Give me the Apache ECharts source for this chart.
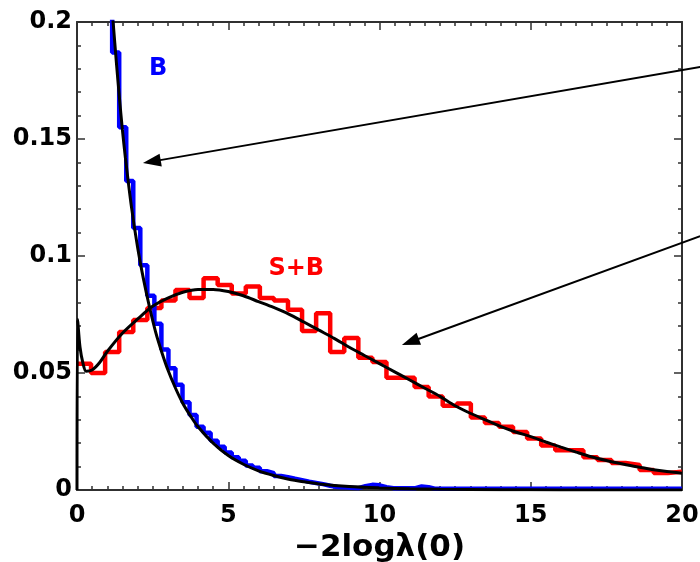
<!DOCTYPE html>
<html><head><meta charset="utf-8">
<script src="https://cdn.jsdelivr.net/npm/echarts@6/dist/echarts.min.js"></script>
<style>html,body{margin:0;padding:0;background:#fff}#c{width:700px;height:562px}</style>
</head><body><div id="c"></div>
<script>
// ---- data ----
const xTickLabels = [0, 5, 10, 15, 20];
const yTickLabels = [0, 0.05, 0.1, 0.15, 0.2];
const xTitle = '\u22122log\u03bb(0)';

// S+B histogram (red): 43 bins of width 0.465 starting at 0
const sbBinStart = 0;
const sbBinWidth = 0.465;
const sbHist = [0.054, 0.050, 0.059, 0.0675, 0.0726, 0.0778, 0.081, 0.0855, 0.082, 0.0905,
  0.0876, 0.084, 0.087, 0.082, 0.081, 0.077, 0.068, 0.0755, 0.059, 0.065,
  0.0565, 0.0547, 0.048, 0.048, 0.044, 0.040, 0.036, 0.037, 0.031, 0.0286,
  0.027, 0.0248, 0.022, 0.019, 0.017, 0.017, 0.014, 0.0128, 0.0115, 0.0107,
  0.0085, 0.0073, 0.0078];

// B histogram (blue): 82 bins of width 0.2325 starting at 0.93
const bBinStart = 0.93;
const bBinWidth = 0.2325;
const bHist = [0.215, 0.187, 0.155, 0.132, 0.112, 0.096, 0.083, 0.071, 0.060, 0.052,
  0.045, 0.0375, 0.032, 0.027, 0.0245, 0.021, 0.0185, 0.016, 0.014, 0.0125,
  0.0105, 0.0095, 0.008, 0.0072, 0.006, 0.0055, 0.0048, 0.0042, 0.0035, 0.003,
  0.0025, 0.0018, 0.0013, 0.0012, 0.001, 0.0008, 0.0016, 0.0022, 0.002, 0.0012,
  0.0008, 0.0008, 0.0007, 0.0007, 0.0015, 0.0012, 0.0005, 0.0005, 0.0005, 0.0005,
  0.0005, 0.0005, 0.0005, 0.0005, 0.0005, 0.0005, 0.0005, 0.0005, 0.0005, 0.0005,
  0.0005, 0.0005, 0.0005, 0.0005, 0.0005, 0.0005, 0.0005, 0.0005, 0.0005, 0.0005,
  0.0005, 0.0005, 0.0005, 0.0005, 0.0005, 0.0005, 0.0005, 0.0005, 0.0005, 0.0005,
  0.0005, 0.0005];

// B fit curve (black)
const bCurveX = [1.12, 1.2, 1.3, 1.4, 1.5, 1.6, 1.8, 2.0, 2.2, 2.4, 2.6, 2.8, 3.0, 3.25, 3.5, 3.75, 4.0, 4.5, 5.0, 5.5, 6.0, 6.5, 7.0, 7.5, 8.0, 9.0, 10, 11, 12, 14, 16, 18, 20];
const bCurveY = [0.211, 0.199, 0.183, 0.168, 0.154, 0.142, 0.121, 0.104, 0.090, 0.078, 0.0675, 0.059, 0.0515, 0.0437, 0.037, 0.0317, 0.027, 0.020, 0.0147, 0.011, 0.0082, 0.0062, 0.0046, 0.0035, 0.0026, 0.0015, 0.0009, 0.0005, 0.0003, 0.0001, 0.00005, 0.00002, 0.00001];

// S+B fit curve (black)
const sbCurveX = [0, 0.02, 0.1, 0.2, 0.3, 0.5, 0.75, 1, 1.5, 2, 2.5, 3, 3.5, 4, 4.5, 5, 5.5, 6, 6.5, 7, 7.5, 8, 8.5, 9, 9.5, 10, 10.5, 11, 11.5, 12, 12.5, 13, 13.5, 14, 14.5, 15, 15.5, 16, 16.5, 17, 17.5, 18, 18.5, 19, 19.5, 20];
const sbCurveY = [0, 0.073, 0.061, 0.054, 0.0508, 0.0513, 0.0545, 0.0592, 0.067, 0.073, 0.0785, 0.082, 0.0845, 0.0857, 0.0857, 0.0848, 0.083, 0.0805, 0.078, 0.0752, 0.0718, 0.0683, 0.0648, 0.061, 0.0575, 0.054, 0.0505, 0.047, 0.0435, 0.040, 0.036, 0.0328, 0.030, 0.0272, 0.0248, 0.0228, 0.0205, 0.0183, 0.0162, 0.0142, 0.0126, 0.0112, 0.0099, 0.0088, 0.0079, 0.0072];

// annotations (data coordinates)
const labelB = {text: 'B', x: 2.68, y: 0.180};
const labelSB = {text: 'S+B', x: 7.25, y: 0.0945};
const arrows = [
  {from: [20.6, 0.1808], to: [2.18, 0.1397]},
  {from: [20.6, 0.1085], to: [10.74, 0.062]}
];

// ---- build ----
const FONT = 'DejaVu Sans';
function histData(start, width, vals) {
  const out = [];
  for (let i = 0; i <= vals.length; i++) {
    out.push([+(start + width * i).toFixed(4), vals[Math.min(i, vals.length - 1)]]);
  }
  return out;
}
function zip(xs, ys) { return xs.map((x, i) => [x, ys[i]]); }

const axisColor = '#303030';
function xAx(pos, showLabel) {
  return {
    type: 'value', min: xTickLabels[0], max: xTickLabels[xTickLabels.length - 1], interval: 5,
    position: pos,
    axisLine: {show: true, onZero: false, lineStyle: {color: axisColor, width: 2}},
    axisTick: {show: true, inside: true, length: 8, lineStyle: {color: axisColor, width: 1.5}},
    minorTick: {show: true, splitNumber: 10, length: 4, lineStyle: {color: axisColor, width: 1.5}},
    splitLine: {show: false},
    axisLabel: {show: showLabel, fontFamily: FONT, fontWeight: 'bold', fontSize: 24, color: '#000', margin: 14},
    name: showLabel ? xTitle : '', nameLocation: 'middle', nameGap: 36,
    nameTextStyle: {fontFamily: FONT, fontWeight: 'bold', fontSize: 31, color: '#000'}
  };
}
function yAx(pos, showLabel) {
  return {
    type: 'value', min: yTickLabels[0], max: yTickLabels[yTickLabels.length - 1], interval: 0.05,
    position: pos,
    axisLine: {show: true, onZero: false, lineStyle: {color: axisColor, width: 2}},
    axisTick: {show: true, inside: true, length: 8, lineStyle: {color: axisColor, width: 1.5}},
    minorTick: {show: true, splitNumber: 5, length: 4, lineStyle: {color: axisColor, width: 1.5}},
    splitLine: {show: false},
    axisLabel: {show: showLabel, fontFamily: FONT, fontWeight: 'bold', fontSize: 24, color: '#000', margin: 5}
  };
}

const chart = echarts.init(document.getElementById('c'), null, {renderer: 'canvas'});
chart.setOption({
  animation: false,
  backgroundColor: '#fff',
  grid: {left: 77, right: 18, top: 22, bottom: 72, containLabel: false, outerBoundsMode: 'none'},
  xAxis: [xAx('bottom', true), xAx('top', false)],
  yAxis: [yAx('left', true), yAx('right', false)],
  series: [
    {type: 'line', step: 'end', data: histData(sbBinStart, sbBinWidth, sbHist), showSymbol: false,
     lineStyle: {color: '#ff0000', width: 4.5}, z: 2},
    {type: 'line', step: 'end', data: histData(bBinStart, bBinWidth, bHist), showSymbol: false,
     lineStyle: {color: '#0000ff', width: 4.5}, z: 3},
    {type: 'line', data: zip(sbCurveX, sbCurveY), showSymbol: false, smooth: 0.3,
     lineStyle: {color: '#000', width: 3}, z: 4},
    {type: 'line', data: zip(bCurveX, bCurveY), showSymbol: false, smooth: 0.3,
     lineStyle: {color: '#000', width: 3}, z: 4}
  ]
});

function px(p) { return chart.convertToPixel({gridIndex: 0}, p); }
const g = [];
[[labelB, '#0000ff'], [labelSB, '#ff0000']].forEach(([l, c]) => {
  const p = px([l.x, l.y]);
  g.push({type: 'text', x: p[0], y: p[1], z: 10,
    style: {text: l.text, fill: c, font: 'bold 24px "' + FONT + '"', textAlign: 'center', textVerticalAlign: 'middle'}});
});
arrows.forEach(a => {
  const p0 = px(a.from), p1 = px(a.to);
  const dx = p1[0] - p0[0], dy = p1[1] - p0[1];
  const L = Math.hypot(dx, dy), ux = dx / L, uy = dy / L;
  const hl = 18, hw = 6.5;
  const bx = p1[0] - ux * hl, by = p1[1] - uy * hl;
  g.push({type: 'line', z: 10, shape: {x1: p0[0], y1: p0[1], x2: bx + ux * 2, y2: by + uy * 2},
    style: {stroke: '#000', lineWidth: 2}});
  g.push({type: 'polygon', z: 10, shape: {points: [[p1[0], p1[1]], [bx - uy * hw, by + ux * hw], [bx + uy * hw, by - ux * hw]]},
    style: {fill: '#000'}});
});
chart.setOption({graphic: g});
</script></body></html>
